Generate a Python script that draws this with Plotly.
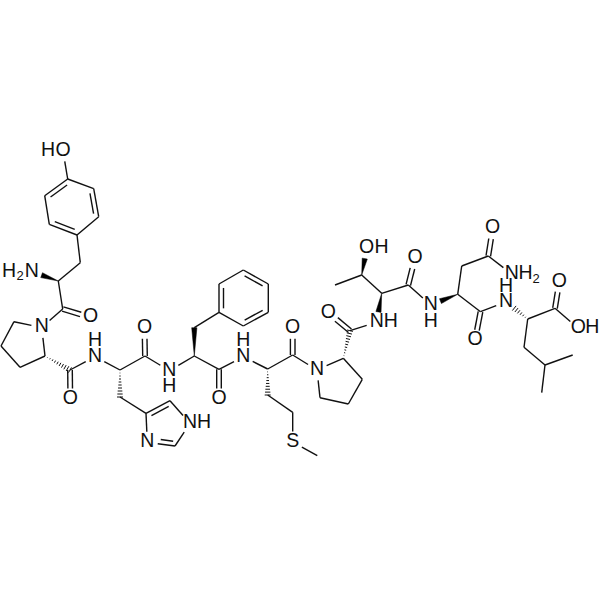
import math
import plotly.graph_objects as go

# atom positions
atom_names = ['Y_O', 'Y1', 'Y2', 'Y3', 'Y4', 'Y5', 'Y6', 'Y_B', 'Y_A', 'Y_N', 'Y_C', 'Y_CO',
              'P1_N', 'P1_D', 'P1_G', 'P1_B', 'P1_A', 'P1_C', 'P1_O',
              'H_N', 'H_A', 'H_B', 'H_G', 'H_D', 'H_NE', 'H_E', 'H_ND', 'H_C', 'H_O',
              'F_N', 'F_A', 'F_B', 'F1', 'F2', 'F3', 'F4', 'F5', 'F6', 'F_C', 'F_O',
              'M_N', 'M_A', 'M_B', 'M_G', 'M_S', 'M_E', 'M_C', 'M_O',
              'P2_N', 'P2_A', 'P2_B', 'P2_G', 'P2_D', 'P2_C', 'P2_O',
              'T_N', 'T_A', 'T_B', 'T_O', 'T_M', 'T_C', 'T_CO',
              'N_N', 'N_A', 'N_B', 'N_G', 'N_OD', 'N_ND', 'N_C', 'N_O',
              'L_N', 'L_A', 'L_B', 'L_G', 'L_D1', 'L_D2', 'L_C', 'L_O', 'L_OH']
atom_x = [63, 67.7, 93.7, 98.7, 77, 49.3, 44.7, 80.3, 58.3, 31.7, 62.7, 90.7,
          41.7, 14, 1, 20, 45, 70, 70.3,
          95, 120, 120, 146, 170, 190, 175, 147.3, 145, 144.5,
          169.3, 194.3, 194.3, 219, 219, 243.3, 268.3, 268.3, 243.3, 219, 219,
          243.3, 267.7, 267.7, 292.7, 292.7, 317.3, 292.7, 292.7,
          317, 343.3, 362.3, 348.3, 320, 350, 328.3,
          376.7, 381.7, 361.7, 366.7, 335, 408.3, 415,
          430.7, 457.7, 461.7, 488.3, 492.7, 511.7, 480.5, 475,
          506, 527.7, 524, 545, 572.7, 541.7, 555, 559.3, 578.3]
atom_y = [151, 179, 188.7, 216.7, 235, 224.3, 195.7, 262.7, 281, 271.7, 309, 317.5,
          327.5, 321.7, 346, 367.3, 356, 370, 399,
          356.7, 370, 397, 413.3, 400.7, 423.3, 446, 442.3, 356, 328.3,
          370.7, 356, 327.7, 312.3, 284, 270, 284, 312.3, 326, 369.3, 399,
          356.7, 369, 395, 412.3, 442, 455.7, 355, 328.3,
          370, 358.3, 379.3, 404, 397.7, 330.7, 312.7,
          322.3, 293.3, 275, 248.3, 285, 285, 258.3,
          305, 294.3, 266, 256, 228.5, 274, 311.7, 340.5,
          301.7, 319, 347.3, 365, 355, 392.7, 308.3, 281.7, 328.3]

single_bonds = [
    ('Y_O', 'Y1'), ('Y2', 'Y1'), ('Y3', 'Y4'), ('Y5', 'Y6'), ('Y4', 'Y_B'), ('Y_B', 'Y_A'),
    ('Y_A', 'Y_C'), ('Y_C', 'P1_N'), ('P1_N', 'P1_D'), ('P1_D', 'P1_G'), ('P1_G', 'P1_B'),
    ('P1_B', 'P1_A'), ('P1_A', 'P1_N'), ('P1_C', 'H_N'), ('H_N', 'H_A'), ('H_B', 'H_G'),
    ('H_D', 'H_NE'), ('H_NE', 'H_E'), ('H_ND', 'H_G'), ('H_A', 'H_C'), ('H_C', 'F_N'),
    ('F_N', 'F_A'), ('F_B', 'F1'), ('F_A', 'F_C'), ('F_C', 'M_N'), ('F1', 'F6'), ('F2', 'F3'),
    ('F4', 'F5'), ('M_N', 'M_A'), ('M_A', 'M_C'), ('M_C', 'P2_N'), ('M_B', 'M_G'),
    ('M_G', 'M_S'), ('M_S', 'M_E'), ('P2_N', 'P2_A'), ('P2_A', 'P2_B'), ('P2_B', 'P2_G'),
    ('P2_G', 'P2_D'), ('P2_D', 'P2_N'), ('P2_C', 'T_N'), ('T_A', 'T_B'), ('T_B', 'T_M'),
    ('T_A', 'T_C'), ('T_C', 'N_N'), ('N_A', 'N_B'), ('N_B', 'N_G'), ('N_G', 'N_ND'),
    ('N_A', 'N_C'), ('N_C', 'L_N'), ('L_A', 'L_B'), ('L_B', 'L_G'), ('L_G', 'L_D1'),
    ('L_G', 'L_D2'), ('L_A', 'L_C'), ('L_C', 'L_OH'),
]
carbonyl_bonds = [
    ('Y_C', 'Y_CO'), ('P1_C', 'P1_O'), ('H_C', 'H_O'), ('F_C', 'F_O'), ('M_C', 'M_O'),
    ('P2_C', 'P2_O'), ('T_C', 'T_CO'), ('N_G', 'N_OD'), ('N_C', 'N_O'), ('L_C', 'L_O'),
]
# ring double bonds: the third name is the atom on the side of the inner line
ring_doubles = [
    ('Y1', 'Y6', 'Y3'), ('Y2', 'Y3', 'Y5'), ('Y4', 'Y5', 'Y2'),
    ('F1', 'F2', 'F4'), ('F3', 'F4', 'F6'), ('F5', 'F6', 'F2'),
    ('H_G', 'H_D', 'H_E'), ('H_E', 'H_ND', 'H_D'),
]
solid_wedges = [('Y_A', 'Y_N'), ('F_A', 'F_B'), ('T_A', 'T_N'), ('T_B', 'T_O'), ('N_A', 'N_N')]
hash_wedges = [('P1_A', 'P1_C'), ('H_A', 'H_B'), ('M_A', 'M_B'), ('P2_A', 'P2_C'), ('L_A', 'L_N')]

# glyphs of the atom labels
label_text = ['H', 'O', 'H', 'N', 'O', 'N', 'O', 'N', 'H', 'O',
              'N', 'H', 'N', 'N', 'H', 'O', 'N', 'H', 'O', 'S',
              'N', 'O', 'N', 'H', 'O', 'H', 'O', 'N', 'H', 'O',
              'N', 'H', 'N', 'H', 'O', 'O', 'O', 'H']
label_x = [48, 63, 9, 31.7, 90.7, 41.7, 70.3, 95, 95, 144.5,
           169.3, 169.3, 147.3, 190, 204, 219, 243.3, 243.3, 292.7, 292.7,
           317, 328.3, 376.7, 390.7, 366.7, 381.5, 415, 430.7, 430.7, 492.7,
           511.7, 525.5, 506, 506, 475, 559.3, 578.3, 592.3]
label_y = [151, 151, 271.7, 271.7, 317.5, 327.5, 399, 356.7, 340.7, 328.3,
           370.7, 386.7, 442.3, 423.3, 423.3, 399, 356.7, 340.7, 328.3, 442,
           370, 312.7, 322.3, 322.3, 248.3, 248.3, 258.3, 305, 321.7, 228.5,
           274, 274, 301.7, 286.7, 340.5, 281.7, 328.3, 328.3]
sub_text = ['2', '2']
sub_x = [20, 536]
sub_y = [277, 280]

labelled = {'Y_O', 'Y_N', 'Y_CO', 'P1_N', 'P1_O', 'H_N', 'H_NE', 'H_ND', 'H_O', 'F_N', 'F_O', 'M_N',
            'M_S', 'M_O', 'P2_N', 'P2_O', 'T_N', 'T_O', 'T_CO', 'N_N', 'N_OD', 'N_ND', 'N_O', 'L_N',
            'L_O', 'L_OH'}
GAP = 10.5

atoms = dict(zip(atom_names, zip(atom_x, atom_y)))


def trimmed(a, b):
    (x0, y0), (x1, y1) = atoms[a], atoms[b]
    d = math.hypot(x1 - x0, y1 - y0)
    ux, uy = (x1 - x0) / d, (y1 - y0) / d
    if a in labelled:
        x0, y0 = x0 + ux * GAP, y0 + uy * GAP
    if b in labelled:
        x1, y1 = x1 - ux * GAP, y1 - uy * GAP
    return x0, y0, x1, y1, ux, uy


line_x, line_y = [], []


def add_seg(x0, y0, x1, y1):
    line_x.extend([x0, x1, None])
    line_y.extend([y0, y1, None])


for a, b in single_bonds:
    x0, y0, x1, y1, _, _ = trimmed(a, b)
    add_seg(x0, y0, x1, y1)

for a, b in carbonyl_bonds:
    x0, y0, x1, y1, ux, uy = trimmed(a, b)
    for s in (-2.3, 2.3):
        add_seg(x0 - uy * s, y0 + ux * s, x1 - uy * s, y1 + ux * s)

for a, b, toward in ring_doubles:
    x0, y0, x1, y1, ux, uy = trimmed(a, b)
    add_seg(x0, y0, x1, y1)
    cx, cy = atoms[toward]
    side = 1 if (-uy * (cx - x0) + ux * (cy - y0)) > 0 else -1
    d = math.hypot(x1 - x0, y1 - y0)
    s, inset = 4.5 * side, d * 0.14
    add_seg(x0 - uy * s + ux * inset, y0 + ux * s + uy * inset,
            x1 - uy * s - ux * inset, y1 + ux * s - uy * inset)

wedge_x, wedge_y = [], []
for a, b in solid_wedges:
    x0, y0, x1, y1, ux, uy = trimmed(a, b)
    w = 2.6
    wedge_x.extend([x0, x1 - uy * w, x1 + uy * w, x0, None])
    wedge_y.extend([y0, y1 + ux * w, y1 - ux * w, y0, None])

hash_x, hash_y = [], []
for a, b in hash_wedges:
    x0, y0, x1, y1, ux, uy = trimmed(a, b)
    d = math.hypot(x1 - x0, y1 - y0)
    n = int(d / 2.8)
    for i in range(1, n + 1):
        t = i / n
        w = 3.0 * t
        px, py = x0 + ux * d * t, y0 + uy * d * t
        hash_x.extend([px - uy * w, px + uy * w, None])
        hash_y.extend([py + ux * w, py - ux * w, None])

fig = go.Figure()
fig.add_trace(go.Scatter(x=line_x, y=line_y, mode='lines', line=dict(color='#111111', width=1.4)))
fig.add_trace(go.Scatter(x=hash_x, y=hash_y, mode='lines', line=dict(color='#111111', width=1.0)))
fig.add_trace(go.Scatter(x=wedge_x, y=wedge_y, mode='lines', fill='toself', fillcolor='black',
                         line=dict(color='black', width=0.5)))
fig.add_trace(go.Scatter(x=label_x, y=label_y, text=label_text, mode='text', textposition='middle center',
                         textfont=dict(family='Liberation Sans', size=19.5, color='#111111')))
fig.add_trace(go.Scatter(x=sub_x, y=sub_y, text=sub_text, mode='text', textposition='middle center',
                         textfont=dict(family='Liberation Sans', size=13, color='#111111')))

fig.update_layout(width=600, height=600, margin=dict(l=0, r=0, t=0, b=0), showlegend=False,
                  plot_bgcolor='white', paper_bgcolor='white', hovermode=False,
                  xaxis=dict(range=[0, 600], visible=False),
                  yaxis=dict(range=[600, 0], visible=False))
# the page's default body margin would push the chart 8px off
fig.write_html("out.html", config=dict(displayModeBar=False),
               post_script="document.body.style.margin='0';document.documentElement.style.overflow='hidden';")
